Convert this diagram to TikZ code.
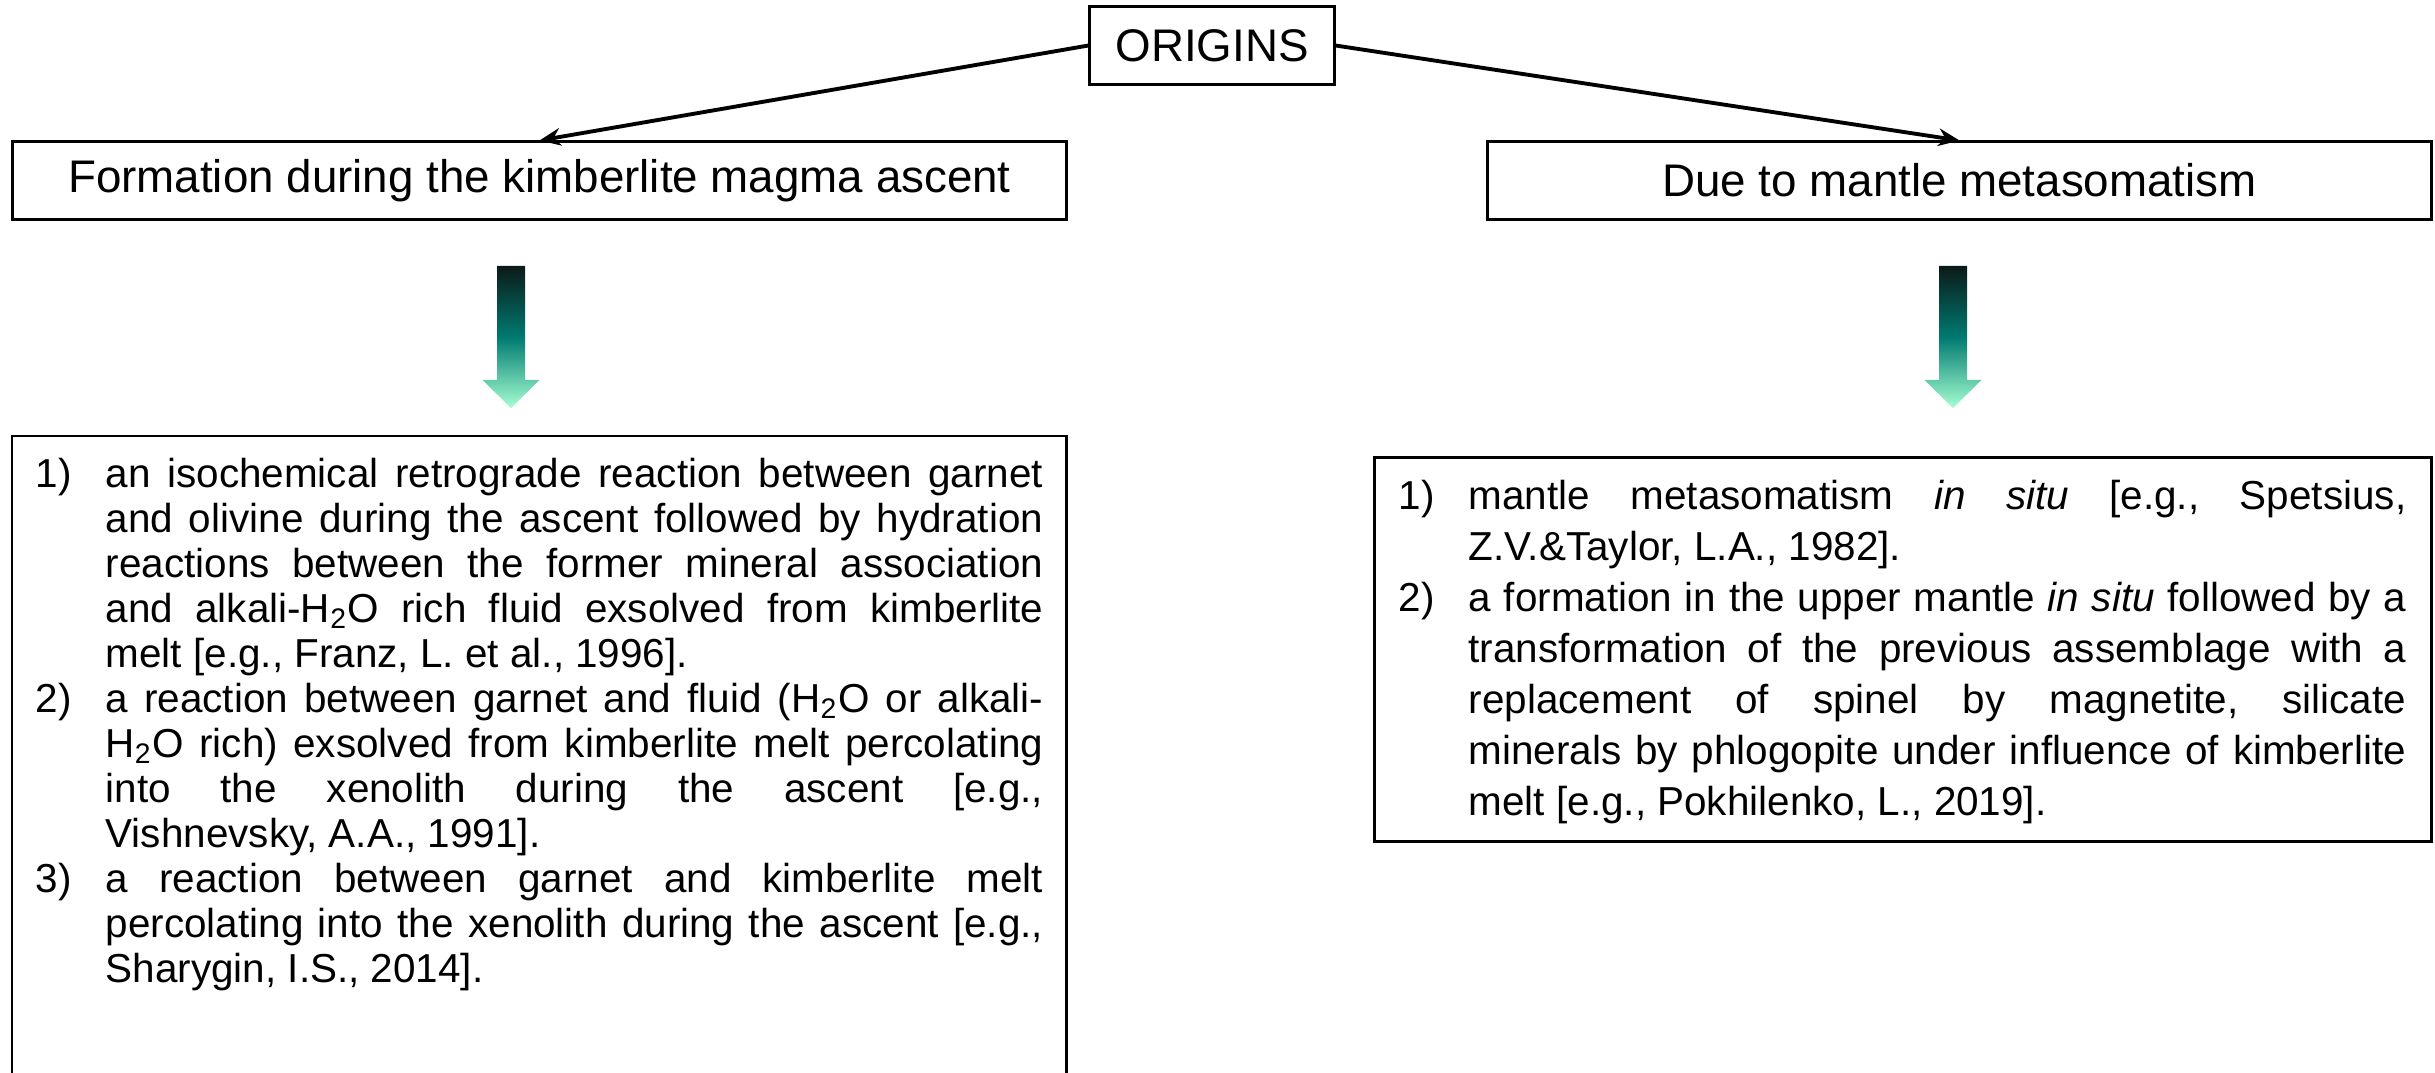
\documentclass[tikz,border=0pt]{standalone}
\usepackage{fontspec}
\setmainfont{Liberation Sans}
\usetikzlibrary{arrows.meta}
\newcommand{\listsetup}{\frenchspacing\tolerance=10000\relax\hbadness=10000\relax\hyphenpenalty=10000\relax}
\newcommand{\itemlabel}[1]{\hangindent=0.7cm\relax\hangafter=1\relax\noindent\makebox[0.7cm][l]{#1}}
\begin{document}
\begin{tikzpicture}[x=0.01cm,y=-0.01cm,
  box/.style={draw, line width=0.85pt, inner sep=0pt, minimum height=0.77cm},
  headfont/.style={font=\fontsize{13}{15}\selectfont},
  conn/.style={line width=1.1pt, -{Stealth[length=6pt,width=5pt]}},
  listtext/.style={anchor=north west, inner sep=0pt, text width=10.07cm, align=justify},
  frame/.style={line width=0.85pt},
  grad/.style={top color=gtop, bottom color=gbot, middle color=gmid}]
\definecolor{gtop}{HTML}{0B1A18}
\definecolor{gmid}{HTML}{007A70}
\definecolor{gbot}{HTML}{A6FFD2}
\fill[white] (0,0) rectangle (2435,1073);
\useasboundingbox (0,0) rectangle (2435,1073);

% header nodes
\node[box, headfont, minimum width=2.44cm] (origins) at (1212,45.5) {ORIGINS};
\node[box, headfont, minimum width=10.53cm] (kimb) at (539.5,180.5) {Formation during the kimberlite magma ascent};
\node[box, headfont, minimum width=9.43cm] (meta) at (1959.5,180.5) {Due to mantle metasomatism};

% connectors
\draw[conn] (origins.west) -- (kimb.north);
\draw[conn] (origins.east) -- (meta.north);

% gradient arrows
\begin{scope}[shift={(511,266)}]
\shade[grad] (-14,0) -- (14,0) -- (14,114) -- (28.5,114) -- (0,142) -- (-28.5,114) -- (-14,114) -- cycle;
\end{scope}
\begin{scope}[shift={(1953,266)}]
\shade[grad] (-14,0) -- (14,0) -- (14,114) -- (28.5,114) -- (0,142) -- (-28.5,114) -- (-14,114) -- cycle;
\end{scope}

% left list box (open at the bottom)
\draw[frame] (12,1073) -- (12,436) -- (1066,436) -- (1066,1073);
\node[listtext] (ltext) at (35,457.5) {\fontsize{11.5}{12.8}\selectfont\listsetup
\itemlabel{1)}an isochemical retrograde reaction between garnet \linebreak and olivine during the ascent followed by hydration \linebreak reactions between the former mineral association \linebreak and alkali-H\textsubscript{2}O rich fluid exsolved from kimberlite \linebreak melt [e.g., Franz, L. et al., 1996].\par
\itemlabel{2)}a reaction between garnet and fluid (H\textsubscript{2}O or alkali-\linebreak H\textsubscript{2}O rich) exsolved from kimberlite melt percolating \linebreak into the xenolith during the ascent [e.g., \linebreak Vishnevsky, A.A., 1991].\par
\itemlabel{3)}a reaction between garnet and kimberlite melt \linebreak percolating into the xenolith during the ascent [e.g., \linebreak Sharygin, I.S., 2014].\par};

% right list box
\node[draw, line width=0.85pt, inner sep=0pt, minimum width=10.56cm, minimum height=3.83cm] (rbox) at (1903,649.5) {};
\node[listtext] (rtext) at (1398,479.5) {\fontsize{11.5}{14.5}\selectfont\listsetup
\itemlabel{1)}mantle metasomatism \textit{in situ} [e.g., Spetsius, \linebreak Z.V.\&Taylor, L.A., 1982].\par
\itemlabel{2)}a formation in the upper mantle \textit{in situ} followed by a \linebreak transformation of the previous assemblage with a \linebreak replacement of spinel by magnetite, silicate \linebreak minerals by phlogopite under influence of kimberlite \linebreak melt [e.g., Pokhilenko, L., 2019].\par};
\end{tikzpicture}
\end{document}
